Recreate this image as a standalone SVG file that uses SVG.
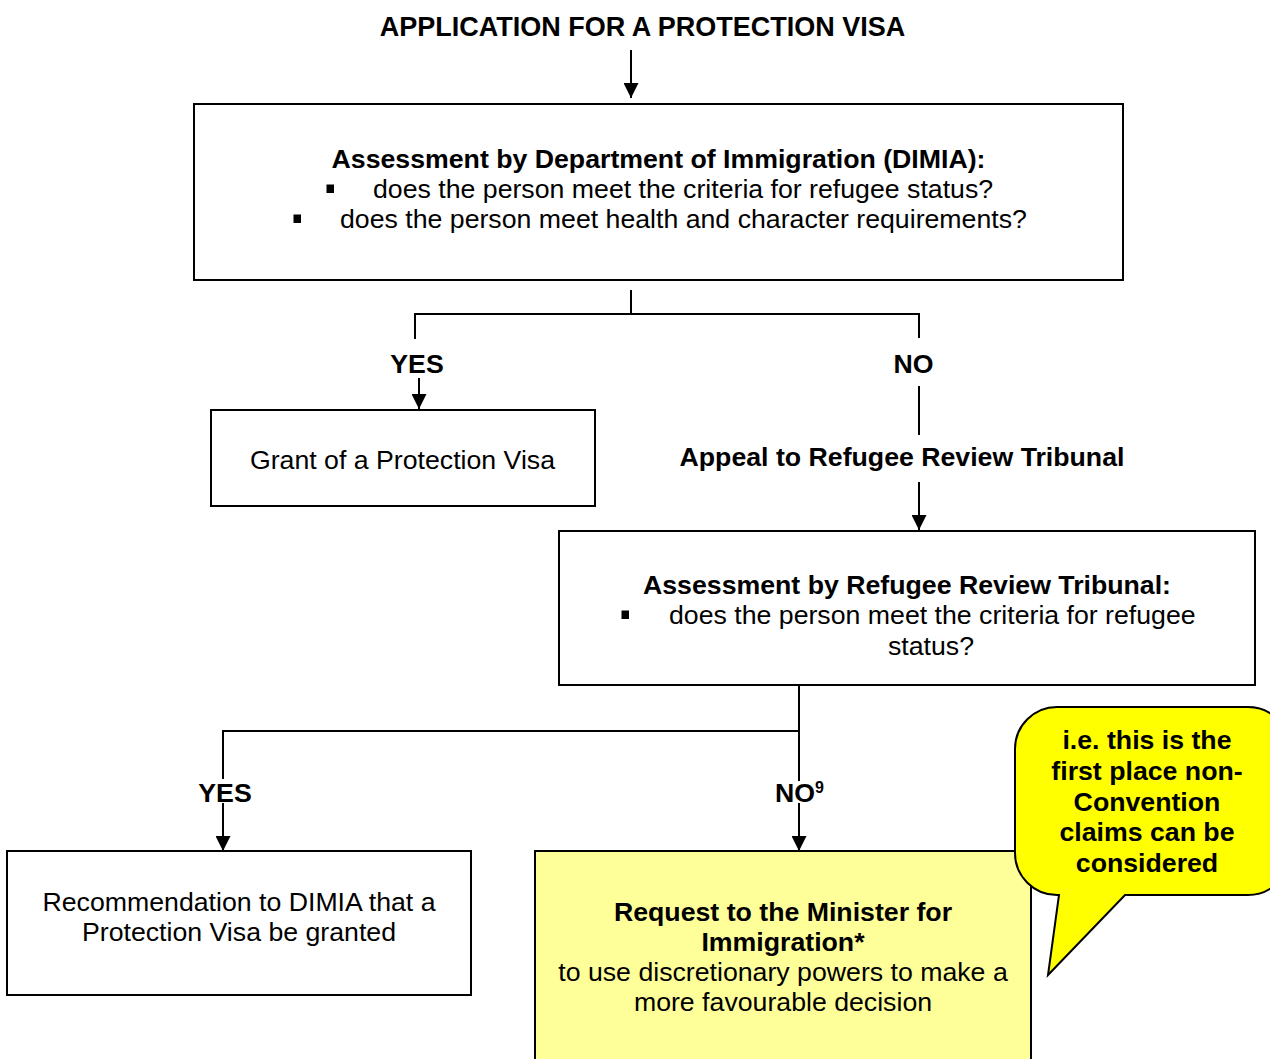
<svg xmlns="http://www.w3.org/2000/svg" width="1270" height="1059" viewBox="0 0 1270 1059">
<style>
  text { font-family: "Liberation Sans", Arial, sans-serif; font-size: 26.7px; fill: #000; }
  .b { font-weight: bold; }
  .c { text-anchor: middle; }
  .box { fill: #fff; stroke: #000; stroke-width: 2; }
  .ln { fill: none; stroke: #000; stroke-width: 2; }
  .arr { marker-end: url(#ah); }
</style>
<defs>
  <marker id="ah" markerUnits="userSpaceOnUse" markerWidth="15" markerHeight="15" refX="15" refY="7.5" orient="auto">
    <path d="M0,0 L15,7.5 L0,15 Z" fill="#000"/>
  </marker>
</defs>
<rect width="1270" height="1059" fill="#fff"/>

<g id="title">
  <text class="b c" x="642.5" y="36" style="font-size:27px">APPLICATION FOR A PROTECTION VISA</text>
</g>

<g id="connectors">
  <line class="ln arr" x1="631" y1="50" x2="631" y2="98"/>
  <polyline class="ln" points="631,290 631,314"/>
  <polyline class="ln" points="415,339 415,314 919,314 919,338"/>
  <line class="ln arr" x1="419" y1="378" x2="419" y2="409"/>
  <line class="ln" x1="919" y1="386" x2="919" y2="435"/>
  <line class="ln arr" x1="919" y1="482" x2="919" y2="530"/>
  <line class="ln" x1="799" y1="685" x2="799" y2="781"/>
  <line class="ln arr" x1="799" y1="803" x2="799" y2="851"/>
  <polyline class="ln" points="799,731 223,731 223,779"/>
  <line class="ln arr" x1="223" y1="803" x2="223" y2="851"/>
</g>

<g id="labels">
  <text class="b c" x="417" y="373">YES</text>
  <text class="b c" x="913.5" y="373">NO</text>
  <text class="b c" x="902" y="466">Appeal to Refugee Review Tribunal</text>
  <text class="b c" x="225" y="802">YES</text>
  <text class="b c" x="795" y="802">NO</text>
  <text class="b" x="815" y="793" style="font-size:16px">9</text>
</g>

<g id="dimia">
  <rect class="box" x="194" y="104" width="929" height="176"/>
  <text class="b c" x="658.5" y="168">Assessment by Department of Immigration (DIMIA):</text>
  <rect x="326.5" y="184.5" width="7.5" height="8.5" fill="#000"/>
  <text x="373" y="198">does the person meet the criteria for refugee status?</text>
  <rect x="293.5" y="214.5" width="7.5" height="8.5" fill="#000"/>
  <text x="340" y="228">does the person meet health and character requirements?</text>
</g>

<g id="grant">
  <rect class="box" x="211" y="410" width="384" height="96"/>
  <text class="c" x="402.5" y="469">Grant of a Protection Visa</text>
</g>

<g id="rrt">
  <rect class="box" x="559" y="531" width="696" height="154"/>
  <text class="b c" x="907" y="594">Assessment by Refugee Review Tribunal:</text>
  <rect x="621.5" y="610.5" width="7.5" height="8.5" fill="#000"/>
  <text x="669" y="624">does the person meet the criteria for refugee</text>
  <text class="c" x="931" y="655">status?</text>
</g>

<g id="recommendation">
  <rect class="box" x="7" y="851" width="464" height="144"/>
  <text class="c" x="239" y="911">Recommendation to DIMIA that a</text>
  <text class="c" x="239" y="941">Protection Visa be granted</text>
</g>

<g id="minister">
  <rect x="535" y="851" width="496" height="230" fill="#FFFF99" stroke="#000" stroke-width="2"/>
  <text class="b c" x="783" y="921">Request to the Minister for</text>
  <text class="b c" x="783" y="951">Immigration*</text>
  <text class="c" x="783" y="981">to use discretionary powers to make a</text>
  <text class="c" x="783" y="1011">more favourable decision</text>
</g>

<g id="callout">
  <path d="M1057,707 H1248 A42,42 0 0 1 1290,749 V853 A42,42 0 0 1 1248,895 H1125 L1048,975 L1059,895 H1057 A42,42 0 0 1 1015,853 V749 A42,42 0 0 1 1057,707 Z" fill="#FFFF00" stroke="#000" stroke-width="2"/>
  <text class="b c" x="1147" y="749">i.e. this is the</text>
  <text class="b c" x="1147" y="780">first place non-</text>
  <text class="b c" x="1147" y="811">Convention</text>
  <text class="b c" x="1147" y="841">claims can be</text>
  <text class="b c" x="1147" y="872">considered</text>
</g>
</svg>
